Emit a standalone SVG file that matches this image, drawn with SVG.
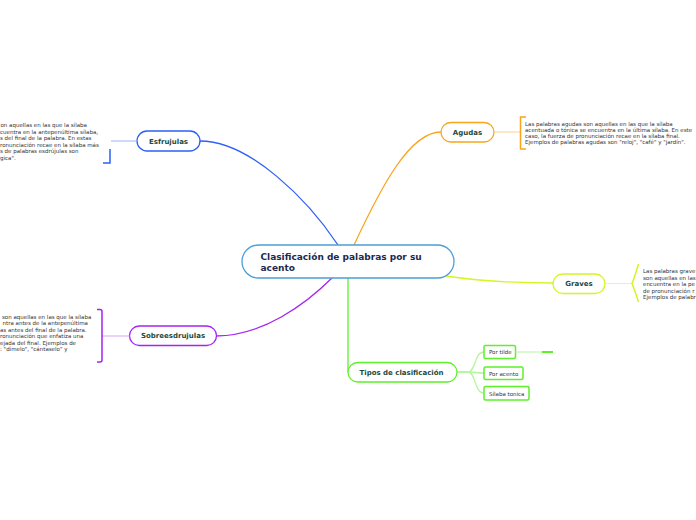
<svg xmlns="http://www.w3.org/2000/svg" width="696" height="520" viewBox="0 0 696 520">
<style>
.bg{fill:#ffffff}
.node{fill:#ffffff;stroke-width:1.3}
.lbl{font-family:"DejaVu Sans",Verdana,sans-serif;font-weight:bold;font-size:7px;fill:#1e4a3c;text-anchor:middle}
.main{font-family:"DejaVu Sans",Verdana,sans-serif;font-weight:bold;font-size:9px;fill:#1b2a50}
.desc{font-family:"DejaVu Sans",Verdana,sans-serif;font-size:5.5px;fill:#333333}
.sub{font-family:"DejaVu Sans",Verdana,sans-serif;font-size:5.5px;fill:#333333}
.c{fill:none;stroke-width:1.3}
</style>
<rect class="bg" x="0" y="0" width="696" height="520"/>
<g id="connectors">
  <path class="c" stroke="#2c5ff5" d="M338,245 C308,200 250,141 200,141"/>
  <path class="c" stroke="#f8a51c" d="M354,245 C382,185 410,132 441,132"/>
  <path class="c" stroke="#d5f51f" d="M446,276 C485,282 520,283 553,283"/>
  <path class="c" stroke="#a424f0" d="M333,277 C305,305 262,336 216,336"/>
  <path class="c" stroke="#5ef02a" d="M348,278 L348,372"/>
  <path class="c" stroke="#b5f5a0" d="M457,372 L468,372 C476,372 474,352 484,352"/>
  <path class="c" stroke="#b5f5a0" d="M457,372 L468,372 C476,372 476,373 484,373"/>
  <path class="c" stroke="#b5f5a0" d="M457,372 L468,372 C476,372 474,393 484,393"/>
</g>
<g id="central">
  <rect class="node" x="242" y="245" width="212" height="33" rx="16.5" stroke="#4a9fd8"/>
  <text class="main" x="260.5" y="259.5">Clasificación de palabras por su</text>
  <text class="main" x="260.5" y="270.5">acento</text>
</g>
<g id="esfrujulas">
  <rect class="node" x="137" y="131" width="63" height="20" rx="10" stroke="#2c5ff5"/>
  <text class="lbl" x="168.5" y="143.5">Esfrujulas</text>
  <path fill="none" stroke="#9db5f7" stroke-width="1" d="M137,141 L111,141"/>
  <path fill="none" stroke="#2c5ff5" stroke-width="1.5" d="M110,149 L110,163 L103,163"/>
  <text class="desc" x="0.5" y="127">on aquellas en las que la sílaba</text>
  <text class="desc" x="0" y="133.6">cuentra en la antepenúltima sílaba,</text>
  <text class="desc" x="0" y="140.2">s del final de la palabra. En estas</text>
  <text class="desc" x="0" y="146.8">ronunciación recae en la sílaba más</text>
  <text class="desc" x="0" y="153.4">s de palabras esdrújulas son</text>
  <text class="desc" x="0" y="160">gica".</text>
</g>
<g id="agudas">
  <rect class="node" x="441" y="122.5" width="53" height="19.5" rx="9.75" stroke="#f8a51c"/>
  <text class="lbl" x="467.5" y="134.5">Agudas</text>
  <path fill="none" stroke="#fbd08a" stroke-width="1" d="M494,132 L520,132"/>
  <path fill="none" stroke="#f8a51c" stroke-width="1.5" d="M526,117 L520.5,117 L520.5,149 L526,149"/>
  <text class="desc" x="525" y="125.5">Las palabras agudas son aquellas en las que la sílaba</text>
  <text class="desc" x="525" y="131.8">acentuada o tónica se encuentra en la última sílaba. En este</text>
  <text class="desc" x="525" y="138.1">caso, la fuerza de pronunciación recae en la sílaba final.</text>
  <text class="desc" x="525" y="144.4">Ejemplos de palabras agudas son "reloj", "café" y "jardín".</text>
</g>
<g id="graves">
  <rect class="node" x="553" y="274" width="52" height="19.5" rx="9.75" stroke="#d5f51f"/>
  <text class="lbl" x="579" y="286">Graves</text>
  <path fill="none" stroke="#e8fa8a" stroke-width="1" d="M605,283.5 L632,283.5"/>
  <path fill="none" stroke="#d5f51f" stroke-width="1.5" d="M638.5,264 Q635,276 632,283.5 Q635,291 638.5,302"/>
  <text class="desc" x="643" y="273">Las palabras grave</text>
  <text class="desc" x="643" y="279.5">son aquellas en las</text>
  <text class="desc" x="643" y="286">encuentra en la pe</text>
  <text class="desc" x="643" y="292.5">de pronunciación r</text>
  <text class="desc" x="643" y="299">Ejemplos de palabr</text>
</g>
<g id="sobreesdrujulas">
  <rect class="node" x="129.5" y="326" width="87" height="19.5" rx="9.75" stroke="#a424f0"/>
  <text class="lbl" x="173" y="338">Sobreesdrujulas</text>
  <path fill="none" stroke="#dca3f7" stroke-width="1" d="M129.5,336 L102,336"/>
  <path fill="none" stroke="#a424f0" stroke-width="1.5" d="M97,309.5 L100,309.5 Q102,309.5 102,311.5 L102,360 Q102,362 100,362 L97,362"/>
  <text class="desc" x="2" y="318.5">son aquellas en las que la sílaba</text>
  <text class="desc" x="2.5" y="325">ntra antes de la antepenúltima</text>
  <text class="desc" x="0" y="331.5">as antes del final de la palabra.</text>
  <text class="desc" x="0" y="338">ronunciación que enfatiza una</text>
  <text class="desc" x="0" y="344.5">ejada del final. Ejemplos de</text>
  <text class="desc" x="0" y="351">: "dímelo", "cántaselo" y</text>
</g>
<g id="tipos">
  <rect class="node" x="348" y="362.5" width="109" height="19.5" rx="9.75" stroke="#5ef02a"/>
  <text class="lbl" x="401.5" y="374.5">Tipos de clasificación</text>
</g>
<g id="por-tilde">
  <rect x="484" y="345.5" width="31.5" height="13" rx="1.5" fill="#ffffff" stroke="#5ef02a" stroke-width="1.5"/>
  <text class="sub" x="489" y="354">Por tilde</text>
  <path fill="none" stroke="#b5f5a0" stroke-width="1" d="M515.5,352 L542,352"/>
  <path fill="none" stroke="#5ef02a" stroke-width="2" d="M542,352 L553,352"/>
</g>
<g id="por-acento">
  <rect x="484" y="367" width="39" height="12.5" rx="1.5" fill="#ffffff" stroke="#5ef02a" stroke-width="1.5"/>
  <text class="sub" x="489" y="375.5">Por acento</text>
</g>
<g id="silaba-tonica">
  <rect x="484" y="386.5" width="45" height="13.5" rx="1.5" fill="#ffffff" stroke="#5ef02a" stroke-width="1.5"/>
  <text class="sub" x="489" y="395.5">Sílaba tonica</text>
</g>
</svg>
